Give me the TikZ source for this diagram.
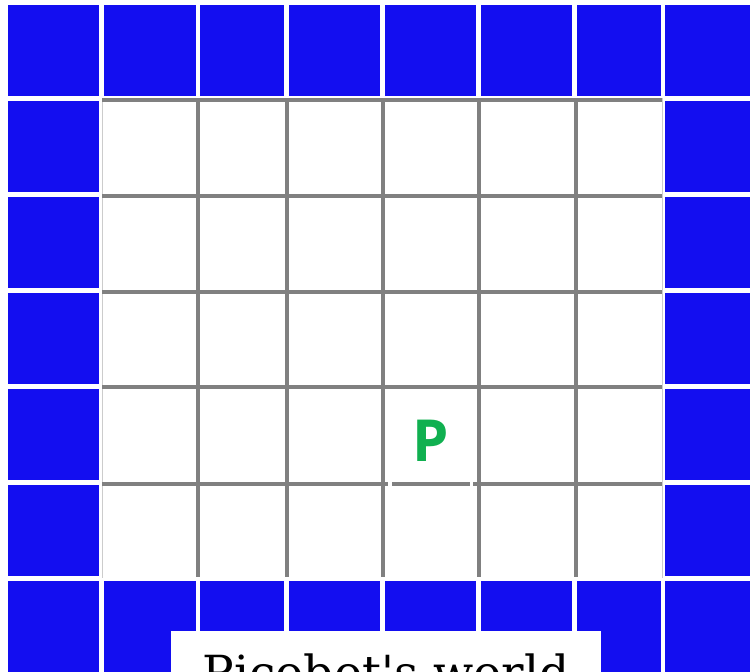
\documentclass[tikz,border=0pt]{standalone}
\usepackage{fontspec}
\setmainfont{DejaVu Serif}
\newfontfamily\robotfont{Open Sans}
\usepackage{tikz}
\usetikzlibrary{positioning}
\definecolor{wallblue}{RGB}{19,14,240}
\definecolor{robotgreen}{RGB}{16,176,80}
\definecolor{gridgray}{RGB}{128,128,128}

\begin{document}
\begin{tikzpicture}[x=1pt, y=-1pt,
  wall/.style={fill=wallblue},
  gridline/.style={gridgray, line width=4pt}]
  \useasboundingbox (0,0) rectangle (750,672);
  \clip (0,0) rectangle (750,672);

  % walls, top and bottom rows
  \foreach \xa/\xb in {8/99,104/196,200/284,289/380,385/476,481/572,577/661,665/760}{
    \fill[wall] (\xa,5) rectangle (\xb,96);
    \fill[wall] (\xa,581) rectangle (\xb,700);
  }
  % walls, left and right columns
  \foreach \ya/\yb in {101/192,197/288,293/384,389/480,485/576}{
    \fill[wall] (8,\ya) rectangle (99,\yb);
    \fill[wall] (665,\ya) rectangle (760,\yb);
  }

  % the empty cells
  \draw[gray!40, line width=1pt] (102,98) -- (102,578) (662,98) -- (662,578);
  \foreach \x in {198,287,383,479,576}
    \draw[gridline] (\x,98) -- (\x,577);
  \foreach \y in {100,196,292,387}
    \draw[gridline] (102,\y) -- (662,\y);
  % line below P is broken
  \draw[gridline] (102,484) -- (388,484) (392,484) -- (470,484) (473,484) -- (662,484);

  % picobot and title
  \node[text=robotgreen, font=\robotfont\bfseries\fontsize{58}{58}\selectfont] (robot) at (431,441) {P};
  \node[fill=white, anchor=base, text height=58pt, inner ysep=0pt, minimum width=430pt,
    font=\fontsize{47}{47}\selectfont] (caption) at (386,689) {Picobot\textquotesingle s world};
\end{tikzpicture}
\end{document}
